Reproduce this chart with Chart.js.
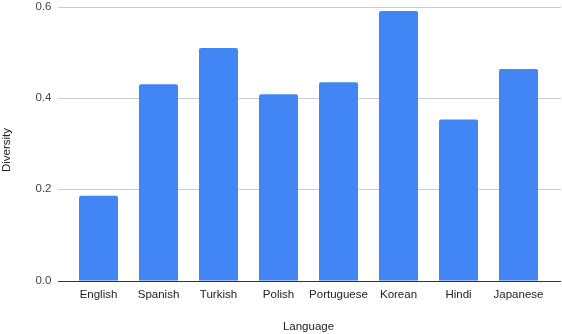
<!DOCTYPE html>
<html>
<head>
<meta charset="utf-8">
<script src="https://cdn.jsdelivr.net/npm/chart.js@4/dist/chart.umd.min.js"></script>
<style>
html,body{margin:0;padding:0;background:#fff;}
#wrap{width:562px;height:334px;position:relative;}
</style>
</head>
<body>
<div id="wrap"><canvas id="c" width="562" height="334"></canvas></div>
<script>
const categories = ["English","Spanish","Turkish","Polish","Portuguese","Korean","Hindi","Japanese"];
const diversity = [0.186, 0.430, 0.509, 0.408, 0.434, 0.590, 0.353, 0.463];
const yTickValues = [0.0, 0.2, 0.4, 0.6];
const yTickLabels = ["0.0", "0.2", "0.4", "0.6"];
const xTitle = "Language";
const yTitle = "Diversity";

const FONT = "'Liberation Sans', Arial, sans-serif";
const PLOT_TOP = 6.5;

const gridPlugin = {
  id: 'wideGrid',
  afterLayout(chart) {
    const y = chart.scales.y;
    y.top = PLOT_TOP;
    y.height = y.bottom - y.top;
    chart.chartArea.top = PLOT_TOP;
    chart.chartArea.height = chart.chartArea.bottom - PLOT_TOP;
    y.configure();
  },
  beforeDatasetsDraw(chart) {
    const ctx = chart.ctx, y = chart.scales.y;
    ctx.save();
    ctx.strokeStyle = '#cccccc';
    ctx.lineWidth = 1;
    yTickValues.forEach(v => {
      if (v === 0) return;
      const py = Math.round(y.getPixelForValue(v)) + 0.5;
      ctx.beginPath(); ctx.moveTo(58, py); ctx.lineTo(561, py); ctx.stroke();
    });
    ctx.restore();
  },
  afterDatasetsDraw(chart) {
    const ctx = chart.ctx, y = chart.scales.y;
    ctx.save();
    ctx.strokeStyle = '#333333';
    ctx.lineWidth = 1.2;
    const py = Math.round(y.getPixelForValue(0)) + 0.5;
    ctx.beginPath(); ctx.moveTo(58, py); ctx.lineTo(561, py); ctx.stroke();
    // y axis title
    ctx.translate(6.5, 150);
    ctx.rotate(-Math.PI / 2);
    ctx.fillStyle = '#222';
    ctx.font = "11.5px " + FONT;
    ctx.textAlign = 'center';
    ctx.textBaseline = 'middle';
    ctx.fillText(yTitle, 0, 0);
    ctx.restore();
  }
};

new Chart(document.getElementById('c'), {
  type: 'bar',
  data: {
    labels: categories,
    datasets: [{
      data: diversity,
      backgroundColor: '#4285F4',
      borderRadius: 2,
      borderSkipped: 'bottom',
      categoryPercentage: 1,
      barPercentage: 0.65
    }]
  },
  options: {
    responsive: false,
    animation: false,
    devicePixelRatio: 1,
    layout: { padding: { top: 0, right: 13.5, left: 0, bottom: 0 } },
    plugins: { legend: { display: false }, tooltip: { enabled: false } },
    scales: {
      x: {
        grid: { display: false, drawTicks: false },
        border: { display: false },
        ticks: { color: '#222', font: { family: FONT, size: 11.5 }, padding: 7, maxRotation: 0, autoSkip: false },
        title: { display: true, text: xTitle, color: '#222', font: { family: FONT, size: 11.5 }, padding: { top: 12, bottom: 0 } },
        afterFit(s) { s.height = 334 - 280.7; }
      },
      y: {
        min: 0, max: 0.6,
        afterBuildTicks(s) { s.ticks = yTickValues.map(v => ({ value: v })); },
        grid: { display: false, drawTicks: false },
        border: { display: false },
        ticks: {
          color: '#444', font: { family: FONT, size: 11.5 }, padding: 17,
          callback(v) { const i = yTickValues.indexOf(v); return i >= 0 ? yTickLabels[i] : ''; }
        },
        title: { display: false },
        afterFit(s) { s.width = 68.5; }
      }
    }
  },
  plugins: [gridPlugin]
});
</script>
</body>
</html>
